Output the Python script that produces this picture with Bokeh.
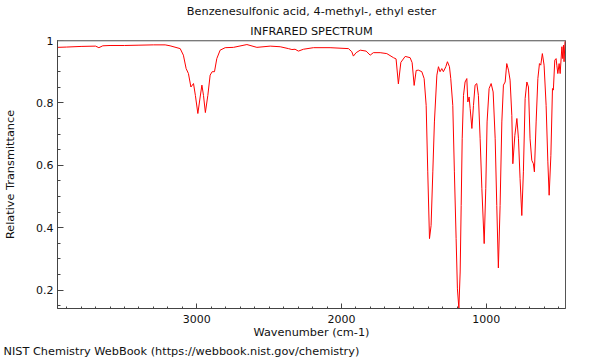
from bokeh.plotting import figure
from bokeh.models import Range1d, SingleIntervalTicker, CustomJSTickFormatter, Title, Span
from bokeh.embed import file_html
from bokeh.resources import INLINE

title_line1 = "Benzenesulfonic acid, 4-methyl-, ethyl ester"
title_line2 = "INFRARED SPECTRUM"
x_label = "Wavenumber (cm-1)"
y_label = "Relative Transmittance"
footer = "NIST Chemistry WebBook (https://webbook.nist.gov/chemistry)"

wavenumber = [
    3963, 3900, 3800, 3700, 3677, 3650, 3600, 3500, 3400, 3300, 3219, 3185,
    3115, 3093, 3074, 3058, 3041, 3023, 3010, 2993, 2977, 2965, 2954, 2941,
    2924, 2908, 2894, 2878, 2862, 2839, 2804, 2747, 2654, 2585, 2493, 2424,
    2367, 2343, 2321, 2298, 2263, 2194, 2079, 1952, 1929, 1918, 1899, 1871,
    1830, 1802, 1780, 1733, 1687, 1641, 1623, 1607, 1590, 1560, 1526, 1512,
    1498, 1484, 1469, 1445, 1429, 1415, 1404, 1392, 1381, 1369, 1358, 1341,
    1330, 1319, 1307, 1296, 1279, 1268, 1254, 1245, 1231, 1220, 1208, 1199,
    1189, 1180, 1173, 1166, 1157, 1146, 1134, 1127, 1118, 1111, 1099, 1088,
    1077, 1065, 1054, 1042, 1030, 1014, 1003, 994, 980, 966, 952, 938,
    927, 916, 904, 892, 881, 869, 858, 846, 835, 823, 816, 802,
    788, 777, 766, 754, 743, 731, 719, 708, 697, 685, 674, 667,
    655, 643, 632, 623, 612, 600, 586, 574, 565, 553, 542, 536,
    526, 517, 512, 505, 496, 489, 477, 471, 466, 462, 455,
]
transmittance = [
    0.978, 0.979, 0.981, 0.982, 0.977, 0.983, 0.984, 0.984, 0.985, 0.986, 0.986, 0.983,
    0.974, 0.953, 0.910, 0.894, 0.851, 0.862, 0.824, 0.766, 0.819, 0.857, 0.824, 0.769,
    0.824, 0.889, 0.900, 0.900, 0.942, 0.969, 0.977, 0.978, 0.987, 0.978, 0.982, 0.980,
    0.974, 0.971, 0.972, 0.966, 0.972, 0.977, 0.977, 0.974, 0.964, 0.950, 0.961, 0.969,
    0.966, 0.953, 0.961, 0.961, 0.958, 0.945, 0.941, 0.861, 0.930, 0.949, 0.945, 0.929,
    0.856, 0.904, 0.905, 0.900, 0.878, 0.792, 0.579, 0.365, 0.407, 0.579, 0.739, 0.889,
    0.916, 0.900, 0.910, 0.900, 0.916, 0.932, 0.916, 0.878, 0.792, 0.579, 0.365, 0.204,
    0.142, 0.258, 0.471, 0.685, 0.824, 0.867, 0.878, 0.803, 0.819, 0.782, 0.718, 0.792,
    0.857, 0.862, 0.824, 0.685, 0.525, 0.349, 0.525, 0.739, 0.846, 0.862, 0.835, 0.685,
    0.471, 0.271, 0.471, 0.739, 0.857, 0.867, 0.926, 0.905, 0.873, 0.760, 0.605, 0.696,
    0.750, 0.685, 0.557, 0.439, 0.579, 0.814, 0.867, 0.851, 0.685, 0.616, 0.605, 0.579,
    0.739, 0.878, 0.926, 0.921, 0.958, 0.921, 0.792, 0.611, 0.504, 0.632, 0.846, 0.841,
    0.937, 0.942, 0.921, 0.894, 0.926, 0.894, 0.980, 0.942, 0.985, 0.932, 1.000,
]

x_start, x_end = 3963, 452
y_start, y_end = 0.141, 1.0

FONT = "DejaVu Sans"
TXT = "#111111"
AX = "#444444"

p = figure(
    width=600, height=360, output_backend="svg", toolbar_location=None,
    x_range=Range1d(x_start, x_end), y_range=Range1d(y_start, y_end),
    min_border_left=57, min_border_right=35, min_border_top=40, min_border_bottom=52,
    title=None,
)
p.background_fill_color = "white"
p.border_fill_color = "white"
p.outline_line_color = "#555555"
p.xgrid.visible = False
p.ygrid.visible = False

p.line(wavenumber, transmittance, line_color="#ff0000", line_width=1)

top_line = Span(location=y_end, dimension="width", line_color="#a0a0a0", line_width=2)
p.add_layout(top_line)

# x axis
xa = p.xaxis[0]
xa.ticker = SingleIntervalTicker(interval=1000, num_minor_ticks=10)
xa.axis_label = x_label
xa.axis_label_text_font = FONT
xa.axis_label_text_font_size = "11.3px"
xa.axis_label_text_font_style = "normal"
xa.axis_label_text_color = TXT
xa.axis_label_standoff = 0
xa.major_label_text_font = FONT
xa.major_label_text_font_size = "11px"
xa.major_label_text_color = TXT
xa.major_label_standoff = 6
xa.major_tick_in = 5
xa.major_tick_out = 0
xa.minor_tick_in = 2
xa.minor_tick_out = 0
xa.axis_line_color = AX
xa.major_tick_line_color = AX
xa.minor_tick_line_color = AX

# y axis
ya = p.yaxis[0]
ya.ticker = SingleIntervalTicker(interval=0.2, num_minor_ticks=4)
ya.formatter = CustomJSTickFormatter(code="return String(Math.round(tick * 10) / 10);")
ya.axis_label = y_label
ya.axis_label_text_font = FONT
ya.axis_label_text_font_size = "11.3px"
ya.axis_label_text_font_style = "normal"
ya.axis_label_text_color = TXT
ya.axis_label_standoff = 16
ya.major_label_text_font = FONT
ya.major_label_text_font_size = "11px"
ya.major_label_text_color = TXT
ya.major_label_standoff = 4
ya.major_tick_in = 6
ya.major_tick_out = 0
ya.minor_tick_in = 3
ya.minor_tick_out = 0
ya.axis_line_color = AX
ya.major_tick_line_color = AX
ya.minor_tick_line_color = AX

# titles (added nearest-first)
t2 = Title(text=title_line2, align="center", text_font=FONT, text_font_size="11.3px",
           text_font_style="normal", text_color=TXT, standoff=6)
p.add_layout(t2, "above")
t1 = Title(text=title_line1, align="center", text_font=FONT, text_font_size="11.3px",
           text_font_style="normal", text_color=TXT, standoff=3)
p.add_layout(t1, "above")

ft = Title(text=footer, align="left", offset=-54, text_font=FONT, text_font_size="11.3px",
           text_font_style="normal", text_color=TXT, standoff=2)
p.add_layout(ft, "below")

open("out.html", "w").write(file_html(p, INLINE))
